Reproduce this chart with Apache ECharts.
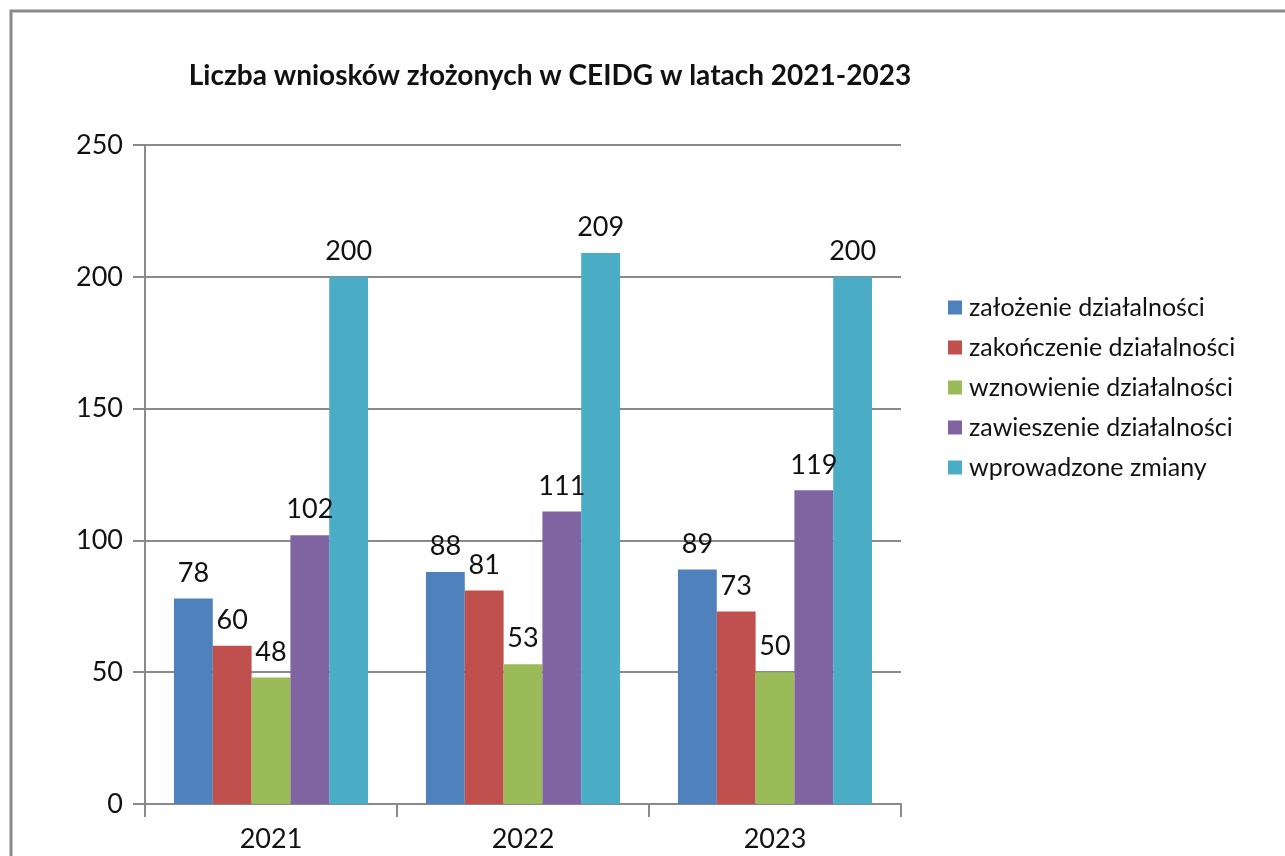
<!DOCTYPE html>
<html lang="pl">
<head>
    <meta charset="UTF-8">
    <title>Liczba wniosków CEIDG</title>
    <script src="https://cdn.jsdelivr.net/npm/echarts@6/dist/echarts.min.js"></script>
    <style>
        html, body {
            margin: 0;
            padding: 0;
            background: #fff;
        }
    </style>
</head>
<body>
<div id="chart" style="width: 1285px;height: 856px"></div>
<script>
    var years = ['2021', '2022', '2023'];
    var seriesNames = ['założenie działalności', 'zakończenie działalności', 'wznowienie działalności', 'zawieszenie działalności', 'wprowadzone zmiany'];
    var zalozenie = [78, 88, 89];
    var zakonczenie = [60, 81, 73];
    var wznowienie = [48, 53, 50];
    var zawieszenie = [102, 111, 119];
    var zmiany = [200, 209, 200];
    var yTicks = [0, 50, 100, 150, 200, 250];

    var colors = ['#4F81BD', '#C0504D', '#9BBB59', '#8064A2', '#4BACC6'];
    var values = [zalozenie, zakonczenie, wznowienie, zawieszenie, zmiany];
    var font = "Lato, sans-serif";

    var series = [];
    for (var i = 0; i < seriesNames.length; i++) {
        series.push({
            name: seriesNames[i],
            type: 'bar',
            data: values[i],
            barGap: '0%',
            barCategoryGap: '23%',
            itemStyle: {color: colors[i]},
            label: {
                show: true,
                position: 'top',
                distance: 12,
                color: '#111',
                fontSize: 27,
                fontFamily: font
            }
        })
    }

    var myChart = echarts.init(document.getElementById('chart'));
    myChart.setOption({
        animation: false,
        title: {
            text: 'Liczba wniosków złożonych w CEIDG w latach 2021-2023',
            left: 545,
            textAlign: 'center',
            top: 57,
            textStyle: {fontSize: 28, fontWeight: 'bold', color: '#111', fontFamily: font}
        },
        graphic: [{
            type: 'rect',
            shape: {x: 11, y: 11, width: 1400, height: 1000},
            style: {fill: 'none', stroke: '#8a8a8a', lineWidth: 3},
            silent: true
        }],
        legend: {
            orient: 'vertical',
            left: 943,
            top: 290,
            itemWidth: 14,
            itemHeight: 14,
            itemGap: 15,
            icon: 'rect',
            textStyle: {fontSize: 25, color: '#111', fontFamily: font, padding: [0, 0, 0, 2]}
        },
        grid: {left: 145, top: 145, right: 384, bottom: 52},
        xAxis: {
            type: 'category',
            data: years,
            axisLine: {lineStyle: {color: '#8a8a8a', width: 2}},
            axisTick: {show: true, length: 13, lineStyle: {color: '#8a8a8a', width: 2}},
            axisLabel: {fontSize: 27, color: '#111', margin: 22, fontFamily: font}
        },
        yAxis: {
            type: 'value',
            min: yTicks[0],
            max: yTicks[yTicks.length - 1],
            interval: 50,
            axisLine: {show: true, lineStyle: {color: '#8a8a8a', width: 2}},
            axisTick: {show: true, length: 12, lineStyle: {color: '#8a8a8a', width: 2}},
            splitLine: {lineStyle: {color: '#8a8a8a', width: 2}},
            axisLabel: {fontSize: 27, color: '#111', margin: 22, fontFamily: font}
        },
        series: series
    });
</script>
</body>
</html>
